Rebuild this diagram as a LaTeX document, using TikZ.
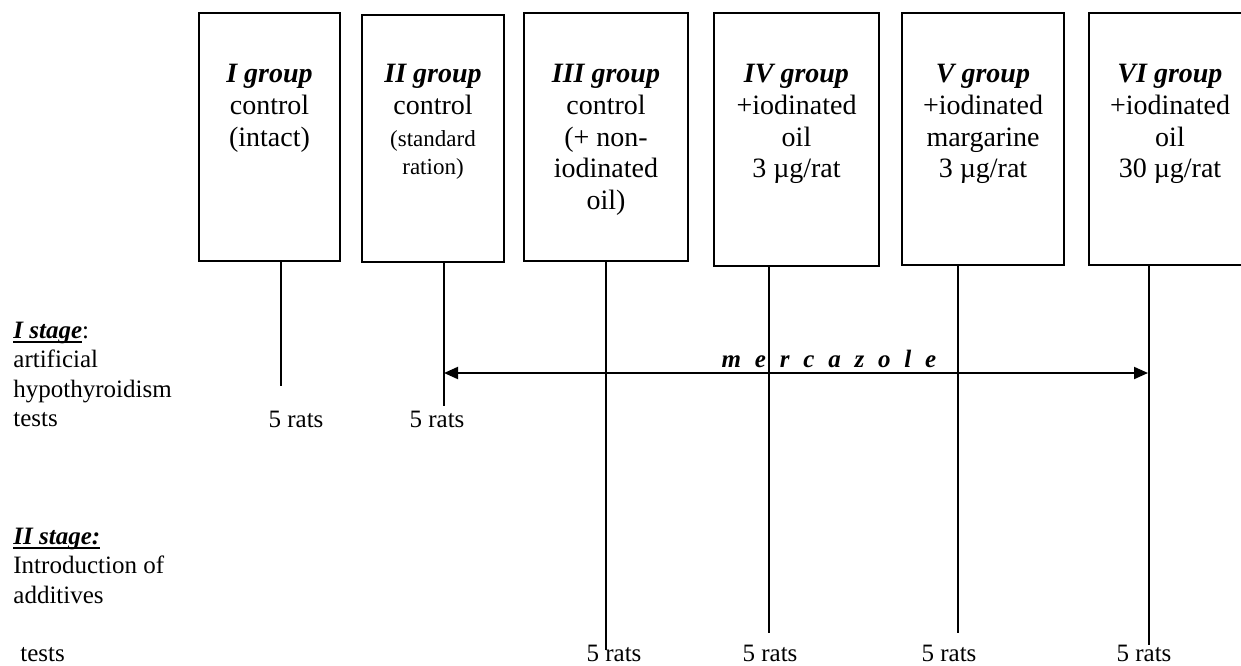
\documentclass[tikz,border=0pt]{standalone}
\usepackage{fontspec}
\setmainfont{Liberation Serif}
\usepackage{tikz}
\usetikzlibrary{positioning,arrows.meta}
\tikzset{
  grp/.style={draw=black, line width=0.75pt, inner sep=0pt},
  grptxt/.style={align=center, inner sep=0pt, font=\fontsize{14}{15.8}\selectfont},
  lab/.style={inner sep=0pt, font=\fontsize{12.5}{14.6}\selectfont},
  ln/.style={line width=0.75pt},
  mtip/.tip={Triangle[length=7pt,width=6pt]}
}
\newcommand{\bi}[1]{\textbf{\textit{#1}}}
\newcommand{\smtxt}{\fontsize{11.5}{13.5}\selectfont}
\newcommand{\stageul}[1]{\setbox0\hbox{#1}\rlap{\rule[-2.2pt]{\wd0}{1pt}}\box0}

\begin{document}
\begin{tikzpicture}[x=0.5pt,y=-0.5pt]
  \useasboundingbox (0,0) rectangle (1241,665);
  \clip (0,0) rectangle (1241,665);
  \node[grp, minimum width=70.5pt, minimum height=124pt] (b1) at (269.5,137) {};
  \node[grp, minimum width=71pt, minimum height=123.5pt] (b2) at (433,138.5) {};
  \node[grp, minimum width=82pt, minimum height=124pt] (b3) at (606,137) {};
  \node[grp, minimum width=82.5pt, minimum height=126.5pt] (b4) at (796.5,139.5) {};
  \node[grp, minimum width=81pt, minimum height=126pt] (b5) at (983,139) {};
  \node[grp, minimum width=81pt, minimum height=126pt] (b6) at (1170,139) {};
  \node[grptxt, below=26pt of b1.north] (t1) {\bi{I group}\\control\\(intact)};
  \node[grptxt, below=25pt of b2.north] (t2) {\bi{II group}\\control\\{\smtxt (standard}\\[-1.5pt]{\smtxt ration)}};
  \node[grptxt, below=26pt of b3.north] (t3) {\bi{III group}\\control\\(+ non-\\iodinated\\oil)};
  \node[grptxt, below=26pt of b4.north] (t4) {\bi{IV group}\\+iodinated\\oil\\3 µg/rat};
  \node[grptxt, below=26pt of b5.north] (t5) {\bi{V group}\\+iodinated\\margarine\\3 µg/rat};
  \node[grptxt, below=26pt of b6.north] (t6) {\bi{VI group}\\+iodinated\\oil\\30 µg/rat};
  \coordinate (e1) at (281,386);
  \coordinate (e2) at (444,406);
  \coordinate (e3) at (606,650);
  \coordinate (e4) at (769,633);
  \coordinate (e5) at (958,633);
  \coordinate (e6) at (1149,645);
  \draw[ln] (b1.south -| e1) -- (e1);
  \draw[ln] (b2.south -| e2) -- (e2);
  \draw[ln] (b3.south -| e3) -- (e3);
  \draw[ln] (b4.south -| e4) -- (e4);
  \draw[ln] (b5.south -| e5) -- (e5);
  \draw[ln] (b6.south -| e6) -- (e6);
  \coordinate (m1) at (444,373);
  \coordinate (m2) at (1148,373);
  \draw[ln, line width=1pt, mtip-mtip] (m1) -- (m2);
  \node[lab, anchor=base] (mz) at (829,367) {\bi{\spaceskip=6.9pt m e r c a z o l e}};
  \node[lab, align=left, anchor=north west] (s1) at (13,322)
    {\stageul{\bi{I stage}}:\\artificial\\hypothyroidism\\tests};
  \node[lab, align=left, anchor=north west] (s2) at (13,528)
    {\stageul{\bi{II stage:}}\\Introduction of\\additives};
  \node[lab, anchor=base] (r1) at (296,427) {5 rats};
  \node[lab, anchor=base] (r2) at (437,427) {5 rats};
  \node[lab, anchor=base] (r3) at (614,661) {5 rats};
  \node[lab, anchor=base] (r4) at (770,661) {5 rats};
  \node[lab, anchor=base] (r5) at (949,661) {5 rats};
  \node[lab, anchor=base] (r6) at (1144,661) {5 rats};
  \node[lab, anchor=base west] (ts) at (20,661) {tests};
\end{tikzpicture}
\end{document}
